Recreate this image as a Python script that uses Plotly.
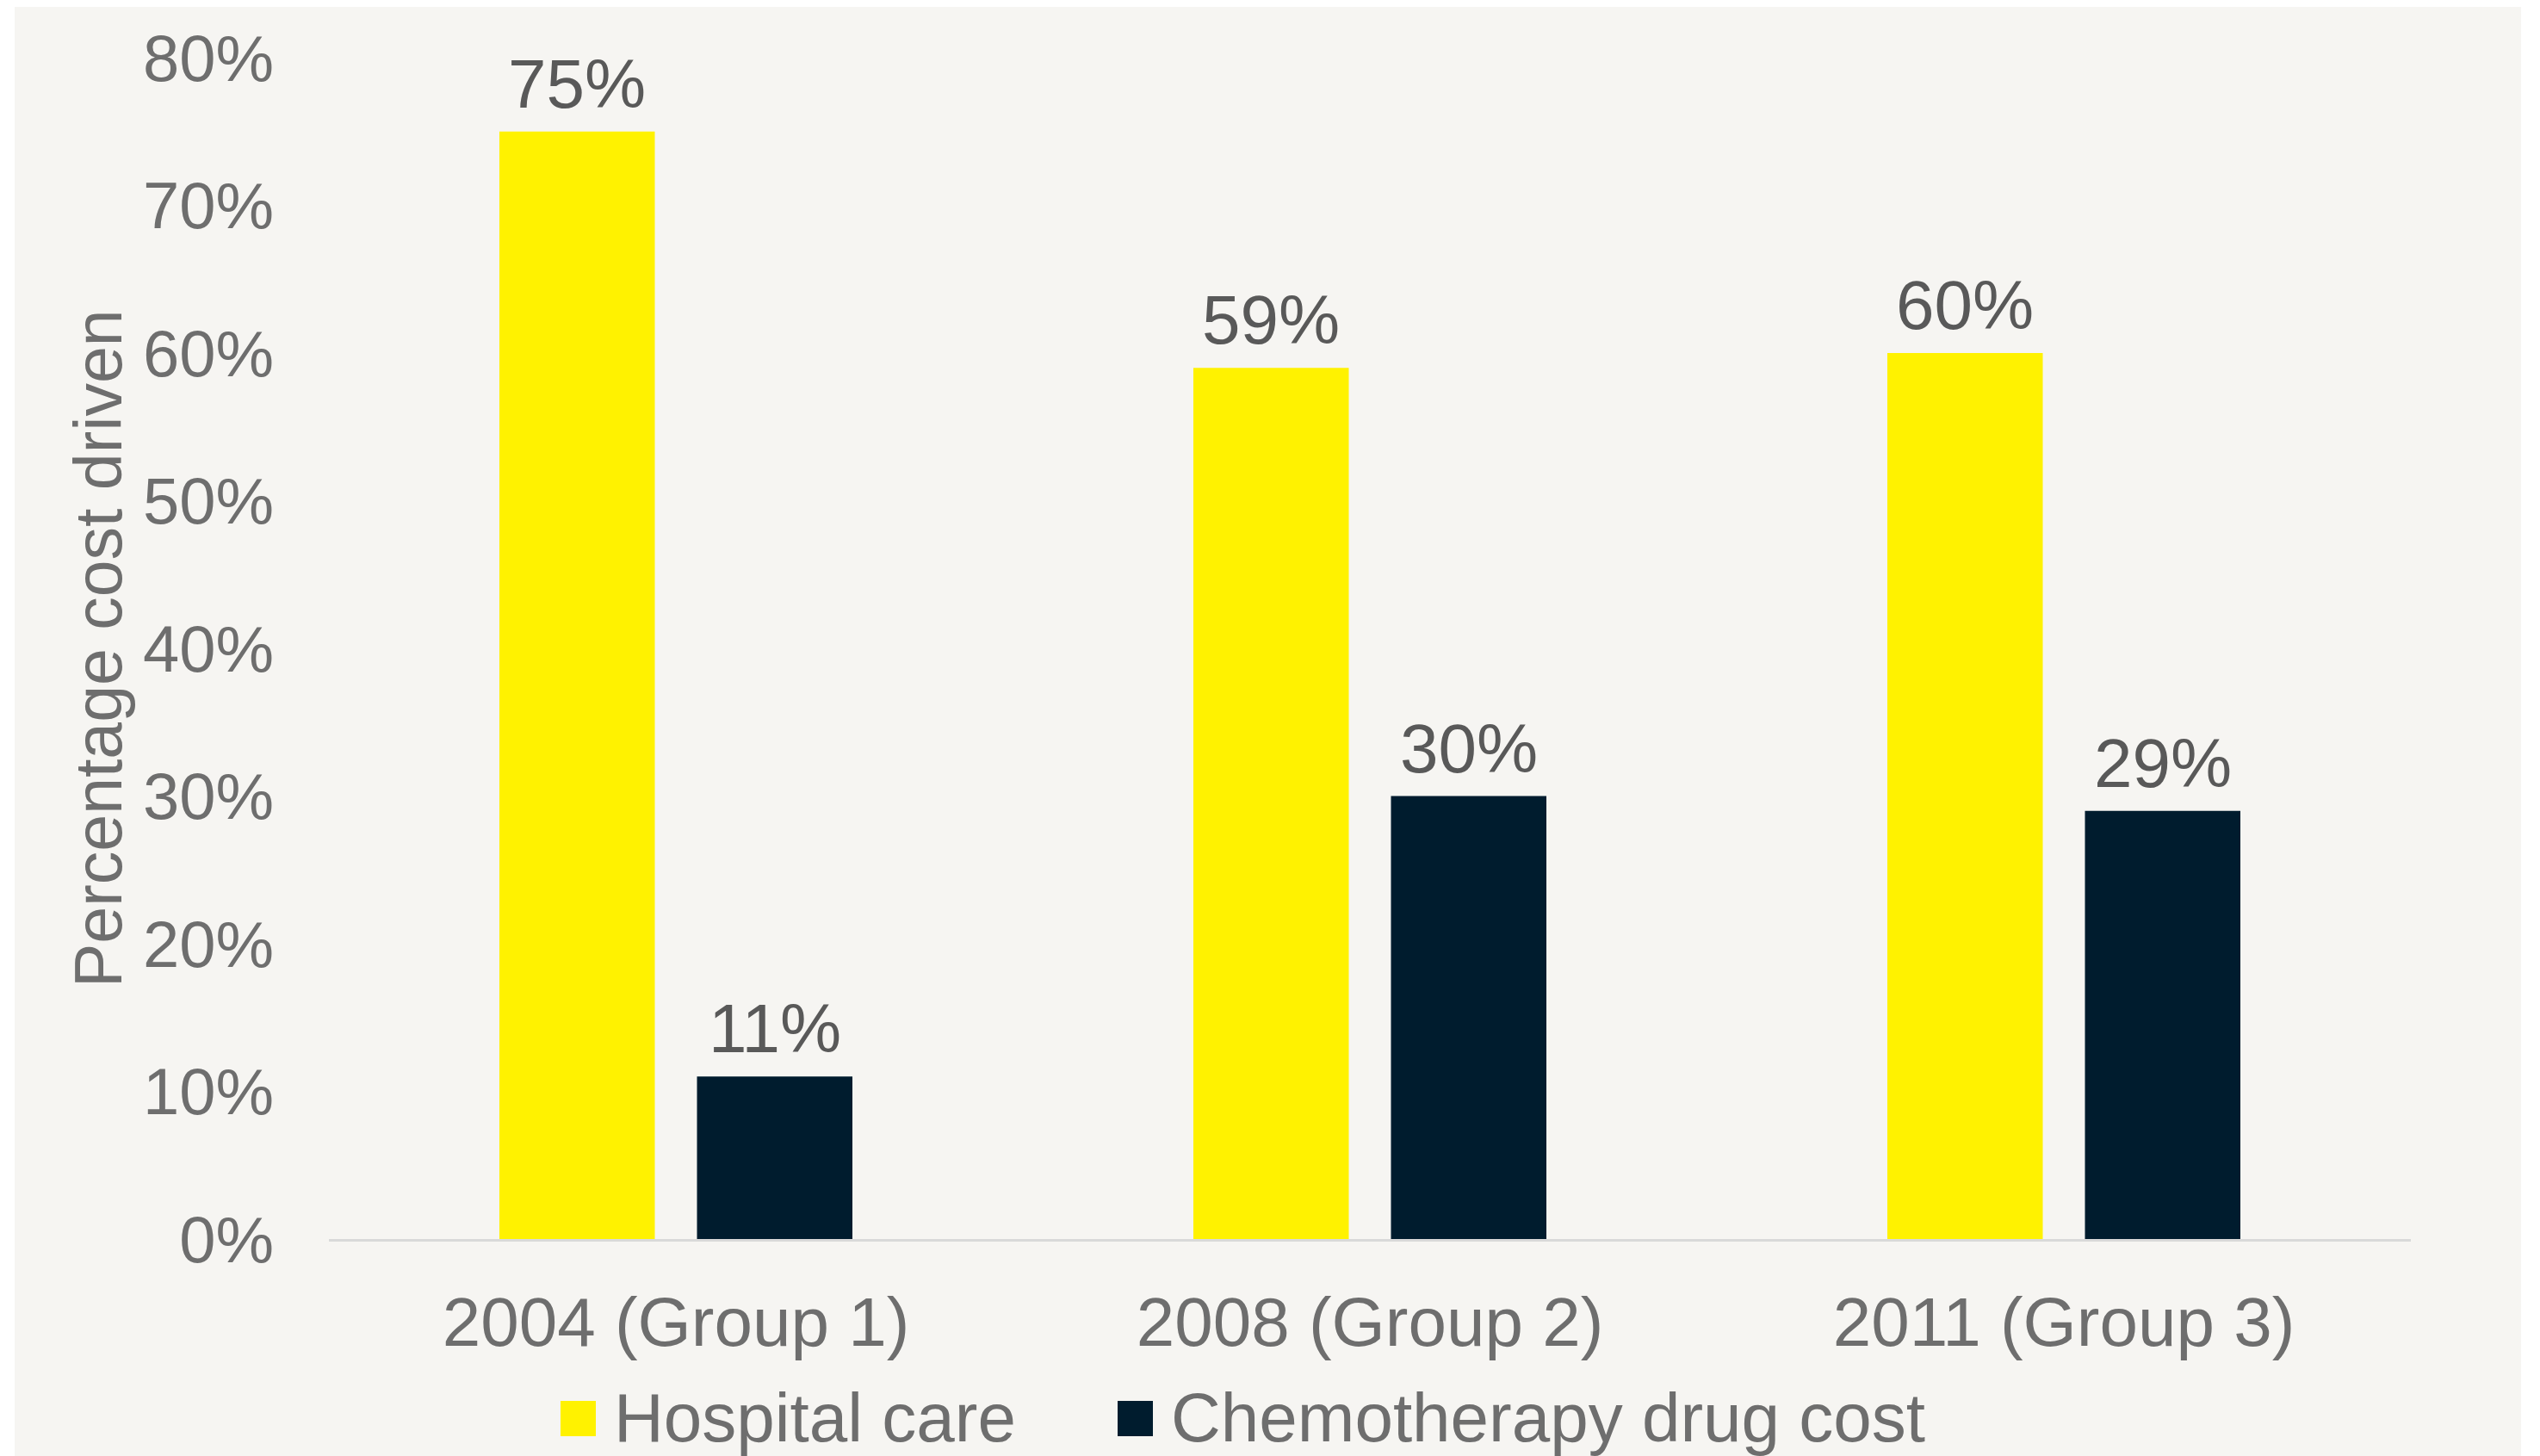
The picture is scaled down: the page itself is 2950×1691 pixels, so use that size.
import plotly.graph_objects as go

categories = ["2004 (Group 1)", "2008 (Group 2)", "2011 (Group 3)"]
series_names = ["Hospital care", "Chemotherapy drug cost"]
hospital_care = [0.75, 0.59, 0.60]
chemo_drug_cost = [0.11, 0.30, 0.29]
series_values = [hospital_care, chemo_drug_cost]
series_colors = ["#FFF200", "#001C2E"]
y_ticks = [0, 0.1, 0.2, 0.3, 0.4, 0.5, 0.6, 0.7, 0.8]

OFF = 8  # page body margin
W, H = 2950 - OFF, 1691 - OFF
L, R, T, B = 374, 150, 59, 252
PW, PH = W - L - R, H - T - B
FONT = "Liberation Sans, Arial, sans-serif"
TICK_COLOR = "#6E6E6E"
LABEL_COLOR = "#595959"
PANEL = "#F6F5F2"

BARGAP, GROUPGAP = 0.4305, 0.2135
slot_px = PW / len(categories) * (1 - BARGAP) / len(series_names)


def px_x(px):  # window pixel -> paper
    return (px - OFF - L) / PW


def px_y(py):
    return (H - B - (py - OFF)) / PH


fig = go.Figure()
annotations = []
for k, (name, vals, col) in enumerate(zip(series_names, series_values, series_colors)):
    fig.add_trace(go.Bar(
        x=categories, y=vals, name=name,
        marker=dict(color=col, line=dict(width=0)),
        showlegend=False,
    ))
    shift = (k - (len(series_names) - 1) / 2) * slot_px
    for c, v in zip(categories, vals):
        annotations.append(dict(
            x=c, y=v, xref="x", yref="y", text=f"{v:.0%}", showarrow=False,
            xanchor="center", yanchor="bottom", xshift=shift, yshift=9,
            font=dict(family=FONT, size=80, color=LABEL_COLOR)))

# legend built from series names / colours (large swatches like the reference)
legend_x_px = [651, 1298]
shapes = [dict(type="rect", xref="paper", yref="paper",
               x0=px_x(17), x1=px_x(2928), y0=px_y(1691), y1=px_y(0),
               fillcolor=PANEL, line=dict(width=0), layer="below")]
for name, col, lx in zip(series_names, series_colors, legend_x_px):
    shapes.append(dict(type="rect", xref="paper", yref="paper",
                       x0=px_x(lx), x1=px_x(lx + 41),
                       y0=px_y(1668), y1=px_y(1627),
                       fillcolor=col, line=dict(width=0)))
    annotations.append(dict(xref="paper", yref="paper", x=px_x(lx + 60),
                            y=px_y(1646), xanchor="left", yanchor="middle",
                            text=name, showarrow=False,
                            font=dict(family=FONT, size=80, color=TICK_COLOR)))

annotations.append(dict(xref="paper", yref="paper", x=px_x(114), y=0.5,
                        xanchor="center", yanchor="middle", textangle=-90,
                        text="Percentage cost driven", showarrow=False,
                        font=dict(family=FONT, size=77, color=TICK_COLOR)))

fig.update_layout(
    width=W, height=H,
    margin=dict(l=L, r=R, t=T, b=B, pad=0, autoexpand=False),
    paper_bgcolor="white", plot_bgcolor=PANEL,
    barmode="group", bargap=BARGAP, bargroupgap=GROUPGAP,
    shapes=shapes, annotations=annotations,
    font=dict(family=FONT, color=TICK_COLOR),
    xaxis=dict(
        automargin=False,
        showline=True, linecolor="#D9D9D9", linewidth=3,
        showgrid=False, ticks="", ticklabelstandoff=25,
        tickfont=dict(family=FONT, size=80, color=TICK_COLOR),
    ),
    yaxis=dict(
        automargin=False,
        range=[0, 0.8], tickvals=y_ticks, tickformat=".0%",
        showgrid=False, zeroline=False, showline=False, ticks="",
        ticklabelstandoff=63,
        tickfont=dict(family=FONT, size=76, color=TICK_COLOR),
    ),
)

fig.write_html("out.html")
